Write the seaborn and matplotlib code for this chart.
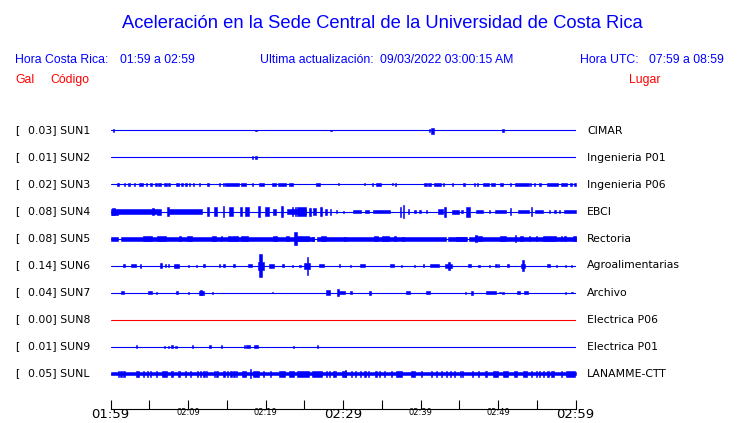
import matplotlib
matplotlib.use("Agg")
import matplotlib.pyplot as plt
import pandas as pd
import seaborn as sns

W, H = 740, 423

codes = ["SUN1", "SUN2", "SUN3", "SUN4", "SUN5", "SUN6", "SUN7", "SUN8", "SUN9", "SUNL"]
places = ["CIMAR", "Ingenieria P01", "Ingenieria P06", "EBCI", "Rectoria",
          "Agroalimentarias", "Archivo", "Electrica P06", "Electrica P01", "LANAMME-CTT"]
gal = [0.03, 0.01, 0.02, 0.08, 0.08, 0.14, 0.04, 0.00, 0.01, 0.05]
trace_colors = ["#0000ff"] * 7 + ["#ff0000"] + ["#0000ff"] * 2

# bursts: (start minute, end minute, half amplitude)
sun1 = [(0.35, 0.5, 1.3), (18.6, 18.9, 0.8), (28.4, 28.5, 0.6), (41.1, 41.2, 1.2),
        (41.4, 41.7, 3.0), (50.6, 50.7, 1.3)]
sun2 = [(18.3, 18.35, 1.3), (18.65, 18.9, 1.2)]
sun3 = [(0.78, 1.12, 1.5), (1.72, 1.9, 1.5), (2.24, 2.5, 1.5), (3.0, 3.1, 1.3), (3.7, 4.2, 1.5),
        (4.57, 4.74, 1.5), (5.1, 5.35, 1.5), (5.7, 5.95, 1.5), (6.1, 6.47, 1.5), (6.9, 7.24, 1.5),
        (7.5, 7.6, 1.3), (8.5, 8.8, 1.5), (9.1, 9.4, 1.5), (9.57, 9.9, 1.5), (10.1, 10.26, 1.5),
        (10.7, 10.8, 1.3), (11.4, 11.55, 1.5), (12.4, 12.67, 1.5), (14.05, 14.15, 1.3),
        (14.5, 14.65, 1.5), (14.8, 16.55, 1.5), (16.9, 17.5, 1.5), (18.3, 18.4, 1.3),
        (19.2, 19.8, 1.5), (20.8, 21.4, 1.5), (21.6, 22.6, 1.5), (23.0, 23.6, 1.5),
        (26.55, 27.0, 1.5), (29.4, 29.5, 1.0), (32.75, 32.85, 1.0), (33.7, 33.9, 1.3),
        (34.2, 34.9, 1.3), (36.3, 36.4, 1.0), (36.7, 36.8, 1.3), (40.4, 40.8, 1.5),
        (40.95, 41.4, 1.5), (41.8, 42.7, 1.5), (42.9, 43.0, 1.3), (44.1, 44.2, 1.3),
        (45.5, 45.7, 1.3), (46.9, 47.0, 1.3), (47.3, 47.4, 1.3), (48.1, 48.8, 1.5),
        (49.05, 49.6, 1.5), (50.25, 50.6, 1.5), (51.6, 51.7, 1.3), (52.2, 54.0, 1.5),
        (54.1, 54.2, 1.3), (54.6, 54.8, 1.3), (55.26, 55.6, 1.5), (56.3, 57.75, 1.5),
        (58.1, 58.96, 1.5), (59.3, 59.57, 1.5), (59.8, 60.0, 1.5)]
sun4 = [(0.0, 1.0, 3.0), (0.2, 0.6, 3.7), (1.0, 6.0, 2.7), (5.4, 5.6, 3.7), (6.0, 6.5, 3.0),
        (7.3, 7.6, 4.3), (7.6, 11.8, 2.5), (12.4, 12.7, 4.3), (13.4, 13.7, 4.7), (14.5, 14.7, 5.7),
        (15.3, 15.8, 4.3), (16.7, 17.0, 4.3), (17.3, 17.9, 4.3), (19.1, 19.2, 5.7),
        (19.9, 20.5, 4.3), (21.0, 21.3, 3.0), (22.0, 22.2, 5.7), (22.8, 25.2, 2.7),
        (23.4, 23.6, 4.3), (23.75, 23.9, 4.3), (24.1, 25.2, 4.3), (25.6, 25.9, 4.0),
        (26.1, 26.5, 3.7), (27.0, 27.3, 4.3), (27.7, 27.9, 3.0), (28.3, 28.5, 3.0),
        (29.1, 29.2, 1.2), (30.0, 30.1, 1.0), (31.3, 32.3, 1.5), (32.9, 33.4, 1.5),
        (33.9, 36.0, 1.8), (37.3, 37.5, 5.0), (37.8, 37.9, 6.3), (38.4, 38.5, 2.5),
        (39.2, 39.4, 1.8), (39.9, 40.0, 1.2), (40.7, 40.8, 1.2), (42.3, 42.9, 2.3),
        (43.1, 43.2, 5.0), (44.1, 45.0, 2.0), (45.3, 45.4, 1.2), (45.9, 46.4, 5.0),
        (47.1, 48.0, 1.5), (48.9, 49.0, 1.2), (49.6, 51.0, 1.5), (51.6, 51.7, 3.3),
        (52.6, 54.0, 1.8), (54.2, 54.4, 4.3), (54.8, 55.8, 1.8), (56.6, 56.7, 1.2),
        (57.3, 57.4, 1.2), (57.9, 58.0, 1.2), (58.5, 60.0, 1.8)]
sun5 = [(0.0, 1.0, 2.0), (1.3, 26.3, 2.0), (26.6, 43.3, 2.0), (43.6, 46.0, 2.0), (46.3, 60.0, 2.0),
        (4.2, 5.3, 2.7), (6.0, 7.1, 2.7), (8.8, 9.1, 2.7), (9.9, 10.5, 2.7), (13.1, 13.6, 2.7),
        (14.3, 14.4, 2.3), (15.1, 15.5, 2.7), (15.7, 16.5, 2.7), (16.9, 17.8, 2.7),
        (21.0, 21.5, 2.7), (22.6, 23.0, 2.7), (23.7, 24.0, 6.7), (24.1, 25.6, 2.7),
        (26.0, 26.2, 2.0), (27.2, 27.8, 2.7), (30.1, 30.4, 2.0), (34.0, 34.5, 2.7),
        (35.0, 35.9, 2.5), (36.6, 36.8, 2.3), (37.7, 37.8, 2.0), (44.6, 45.9, 2.0),
        (47.0, 47.9, 2.7), (47.1, 47.2, 3.3), (50.3, 51.0, 2.3), (52.2, 52.3, 3.3),
        (52.8, 53.2, 2.3), (54.0, 54.1, 2.3), (54.9, 55.0, 2.3), (55.8, 57.5, 2.5),
        (58.1, 58.2, 2.3), (58.6, 58.7, 2.3), (59.7, 60.0, 2.7)]
sun6 = [(1.55, 1.9, 1.5), (2.6, 3.3, 1.5), (3.8, 3.9, 2.0), (6.4, 6.6, 2.3), (7.0, 7.1, 1.3),
        (7.4, 7.5, 1.3), (8.2, 8.8, 2.0), (10.0, 10.1, 1.0), (11.0, 11.1, 1.0), (12.0, 12.1, 1.3),
        (14.0, 14.1, 1.3), (14.6, 14.7, 1.3), (15.9, 16.0, 1.3), (17.8, 18.3, 1.7),
        (19.0, 19.8, 4.0), (19.1, 19.5, 11.7), (20.5, 21.1, 2.0), (22.2, 22.3, 1.3),
        (23.4, 23.5, 1.0), (24.4, 24.5, 1.0), (25.0, 25.8, 3.0), (25.3, 25.5, 9.0),
        (26.9, 27.6, 1.5), (29.5, 29.6, 1.3), (30.9, 31.0, 1.0), (32.2, 32.9, 1.3),
        (36.0, 36.6, 1.7), (37.5, 37.6, 1.0), (39.2, 39.3, 1.0), (40.3, 40.4, 1.3),
        (41.2, 42.4, 1.7), (43.2, 44.1, 2.0), (43.6, 43.8, 4.0), (46.1, 46.5, 1.7),
        (47.5, 47.6, 1.0), (48.9, 49.0, 1.0), (49.7, 49.8, 1.3), (50.0, 50.1, 1.3),
        (51.1, 51.4, 1.5), (53.0, 53.5, 2.0), (53.15, 53.3, 5.7), (56.3, 56.7, 1.3),
        (57.5, 57.6, 1.0), (58.7, 58.8, 1.0), (59.4, 59.5, 1.0)]
sun7 = [(1.3, 1.7, 1.3), (4.9, 5.3, 1.3), (5.9, 6.0, 1.0), (8.4, 8.7, 1.7), (10.0, 10.1, 1.0),
        (11.4, 12.0, 2.0), (11.6, 11.8, 2.7), (13.1, 13.2, 1.0), (20.9, 21.0, 0.8),
        (27.8, 28.3, 2.3), (29.2, 29.5, 3.3), (29.5, 30.3, 1.7), (30.9, 31.2, 1.3),
        (33.4, 33.6, 2.0), (38.1, 38.6, 1.5), (40.7, 41.2, 1.7), (45.8, 45.9, 1.0),
        (46.5, 46.8, 2.0), (48.4, 49.8, 1.5), (50.2, 50.3, 0.8), (50.6, 50.7, 1.0),
        (52.4, 52.8, 1.3), (53.4, 53.9, 1.5), (58.7, 58.8, 1.0), (59.5, 59.6, 0.8)]
sun8 = []
sun9 = [(3.3, 3.4, 1.3), (6.9, 7.0, 1.0), (7.4, 7.5, 1.0), (7.9, 8.0, 1.3), (8.4, 8.5, 1.0),
        (10.5, 10.6, 1.3), (12.8, 12.9, 1.3), (14.3, 14.4, 1.3), (17.2, 17.3, 1.3),
        (17.5, 18.0, 1.5), (18.5, 19.0, 1.5), (23.6, 23.7, 1.0), (26.7, 26.8, 1.3)]
sunl = [(0.0, 60.0, 1.8),
        (1.0, 1.1, 3.0), (1.3, 1.4, 3.0), (1.7, 1.8, 3.0), (3.3, 3.7, 3.0), (4.2, 4.3, 3.0),
        (4.7, 4.8, 3.0), (5.1, 5.2, 3.0), (5.9, 6.0, 3.0), (6.6, 7.3, 3.0), (7.9, 8.0, 3.0),
        (8.8, 8.9, 3.0), (9.6, 9.7, 3.0), (10.3, 10.4, 3.0), (11.2, 11.3, 3.0), (11.6, 11.7, 3.0),
        (12.0, 12.1, 3.0), (12.3, 12.4, 3.0), (13.4, 13.5, 3.0), (13.7, 13.8, 3.0),
        (14.6, 14.7, 3.0), (15.0, 15.1, 3.0), (15.5, 15.6, 3.0), (15.9, 16.0, 3.0),
        (16.2, 16.3, 3.0), (17.0, 17.5, 3.0), (18.0, 18.1, 4.5), (18.4, 19.1, 3.0),
        (19.7, 19.8, 3.0), (20.6, 20.7, 3.0), (21.7, 22.5, 3.0), (23.0, 23.7, 3.0),
        (24.0, 25.6, 3.0), (26.0, 27.3, 3.0), (27.8, 27.9, 3.0), (28.2, 28.3, 3.0),
        (28.7, 29.1, 3.0), (29.9, 30.4, 3.0), (30.3, 30.4, 3.7), (31.0, 31.1, 3.0),
        (31.6, 31.7, 3.0), (32.2, 32.3, 3.0), (32.8, 32.9, 3.0), (33.2, 33.3, 3.0),
        (34.2, 34.3, 3.0), (34.7, 34.8, 3.0), (35.3, 35.4, 3.0), (36.2, 36.3, 3.0),
        (36.9, 37.6, 3.0), (38.8, 39.3, 3.0), (40.1, 40.2, 3.0), (41.4, 41.5, 3.0),
        (42.0, 42.1, 3.0), (42.6, 42.8, 3.0), (43.3, 43.4, 3.0), (43.8, 43.9, 3.0),
        (44.3, 44.4, 3.0), (45.1, 45.2, 3.0), (45.4, 45.5, 3.0), (46.7, 46.8, 3.0),
        (47.4, 47.5, 3.0), (48.4, 48.5, 3.0), (49.4, 50.0, 3.0), (50.6, 51.3, 3.0),
        (52.0, 52.4, 3.0), (53.2, 53.7, 3.0), (54.3, 54.4, 3.0), (54.9, 55.0, 3.0),
        (55.3, 55.4, 3.0), (55.8, 55.9, 3.0), (56.4, 56.5, 3.0), (56.8, 57.2, 3.0),
        (58.1, 58.2, 3.0), (58.8, 59.9, 3.0)]
bursts = [sun1, sun2, sun3, sun4, sun5, sun6, sun7, sun8, sun9, sunl]

tick_minutes = list(range(0, 61, 5))
tick_labels = ["01:59", "", "02:09", "", "02:19", "", "02:29", "", "02:39", "", "02:49", "", "02:59"]
big_ticks = ["01:59", "02:29", "02:59"]

title = "Aceleración en la Sede Central de la Universidad de Costa Rica"
hora_cr = "01:59 a 02:59"
actualizacion = "09/03/2022 03:00:15 AM"
hora_utc = "07:59 a 08:59"

sns.set_style("white")
plt.rcParams["font.family"] = ["DejaVu Sans"]
plt.rcParams["text.color"] = "black"

fig = plt.figure(figsize=(W / 100, H / 100), dpi=100)


def fx(px):
    return px / W


def fy(py):
    return 1 - py / H


# axes in pixel units vertically so amplitudes read as pixels
ax_left, ax_right, ax_top, ax_bottom = 110.5, 575.5, 110, 409
ax = fig.add_axes([fx(ax_left), fy(ax_bottom), fx(ax_right - ax_left), (ax_bottom - ax_top) / H])
ax.set_xlim(0, 60)
ax.set_ylim(ax_bottom, ax_top)

offsets = [130.5 + 27 * i for i in range(len(codes))]

base = pd.DataFrame({
    "minute": [0, 60] * len(codes),
    "y": [o for o in offsets for _ in range(2)],
    "code": [c for c in codes for _ in range(2)],
})
sns.lineplot(data=base, x="minute", y="y", hue="code", palette=dict(zip(codes, trace_colors)),
             legend=False, linewidth=0.8, ax=ax, estimator=None)

for y0, col, evs in zip(offsets, trace_colors, bursts):
    for t0, t1, a in evs:
        if t1 - t0 < 0.15:
            c = (t0 + t1) / 2
            t0, t1 = c - 0.08, c + 0.08
        ax.fill_between([t0, t1], [y0 - a] * 2, [y0 + a] * 2, color=col, linewidth=0.4)

for side in ["top", "left", "right"]:
    ax.spines[side].set_visible(False)
ax.spines["bottom"].set_color("black")
ax.spines["bottom"].set_linewidth(0.8)
ax.set_yticks([])
ax.set_xticks(tick_minutes)
ax.set_xticklabels(tick_labels)
ax.tick_params(axis="x", bottom=True, direction="in", length=6.5, width=0.8,
               color="black", labelcolor="black", pad=-0.5)
for lab in ax.get_xticklabels():
    if lab.get_text() in big_ticks:
        lab.set_fontsize(9.5)
    else:
        lab.set_fontsize(6)
ax.set_xlabel("")
ax.set_ylabel("")
ax.patch.set_alpha(0)

# station labels
for y0, g, code, place in zip(offsets, gal, codes, places):
    fig.text(fx(15), fy(y0), "[", fontsize=7.8, color="black", va="center", ha="left")
    fig.text(fx(27.5), fy(y0), f"{g:.2f}] {code}", fontsize=7.8, color="black", va="center", ha="left")
    fig.text(fx(587), fy(y0), place, fontsize=7.8, color="black", va="center", ha="left")

# header
head = ["Liberation Sans", "DejaVu Sans"]
blue, red = "#0000ff", "#ff0000"
fig.text(fx(382), fy(23), title, fontsize=13.2, color=blue, ha="center", va="center", family=head)
fig.text(fx(15), fy(60), "Hora Costa Rica:", fontsize=8.8, color=blue, va="center", family=head)
fig.text(fx(120), fy(60), hora_cr, fontsize=8.8, color=blue, va="center", family=head)
fig.text(fx(260), fy(60), "Ultima actualización:", fontsize=8.8, color=blue, va="center", family=head)
fig.text(fx(380), fy(60), actualizacion, fontsize=8.8, color=blue, va="center", family=head)
fig.text(fx(580), fy(60), "Hora UTC:", fontsize=8.8, color=blue, va="center", family=head)
fig.text(fx(724), fy(60), hora_utc, fontsize=8.8, color=blue, va="center", ha="right", family=head)
fig.text(fx(15), fy(80), "Gal", fontsize=8.8, color=red, va="center", family=head)
fig.text(fx(50), fy(80), "Código", fontsize=8.8, color=red, va="center", family=head)
fig.text(fx(629), fy(80), "Lugar", fontsize=8.8, color=red, va="center", family=head)

fig.savefig("out.png", dpi=100)
